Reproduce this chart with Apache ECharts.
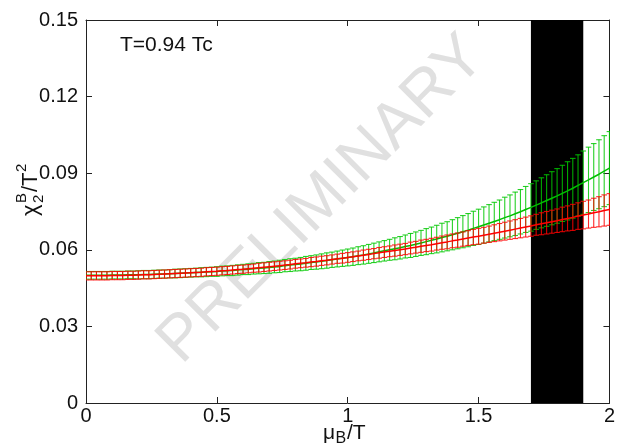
<!DOCTYPE html>
<html><head><meta charset="utf-8">
<script src="https://cdn.jsdelivr.net/npm/echarts@6/dist/echarts.min.js"></script>
<style>html,body{margin:0;padding:0;background:#fff}#c{width:618px;height:446px}</style>
</head><body><div id="c"></div>
<script>
const muB = [0,0.02,0.04,0.06,0.08,0.10,0.12,0.14,0.16,0.18,0.20,0.22,0.24,0.26,0.28,0.30,0.32,0.34,0.36,0.38,0.40,0.42,0.44,0.46,0.48,0.50,0.52,0.54,0.56,0.58,0.60,0.62,0.64,0.66,0.68,0.70,0.72,0.74,0.76,0.78,0.80,0.82,0.84,0.86,0.88,0.90,0.92,0.94,0.96,0.98,1.00,1.02,1.04,1.06,1.08,1.10,1.12,1.14,1.16,1.18,1.20,1.22,1.24,1.26,1.28,1.30,1.32,1.34,1.36,1.38,1.40,1.42,1.44,1.46,1.48,1.50,1.52,1.54,1.56,1.58,1.60,1.62,1.64,1.66,1.68,1.70,1.72,1.74,1.76,1.78,1.80,1.82,1.84,1.86,1.88,1.90,1.92,1.94,1.96,1.98,2.00];
const greenVal = [0.0500,0.0500,0.0500,0.0500,0.0500,0.0501,0.0501,0.0501,0.0502,0.0502,0.0502,0.0503,0.0503,0.0504,0.0505,0.0505,0.0506,0.0507,0.0508,0.0509,0.0510,0.0511,0.0512,0.0513,0.0514,0.0515,0.0517,0.0518,0.0519,0.0521,0.0523,0.0524,0.0526,0.0528,0.0529,0.0531,0.0533,0.0535,0.0538,0.0540,0.0542,0.0544,0.0547,0.0550,0.0552,0.0555,0.0558,0.0561,0.0564,0.0567,0.0570,0.0573,0.0577,0.0580,0.0584,0.0588,0.0592,0.0596,0.0600,0.0604,0.0608,0.0613,0.0617,0.0622,0.0627,0.0632,0.0637,0.0642,0.0648,0.0653,0.0659,0.0665,0.0671,0.0677,0.0684,0.0690,0.0697,0.0704,0.0711,0.0718,0.0726,0.0733,0.0741,0.0749,0.0758,0.0766,0.0775,0.0784,0.0793,0.0802,0.0811,0.0821,0.0831,0.0841,0.0852,0.0863,0.0874,0.0885,0.0896,0.0908,0.0920];
const greenErr = [0.0015,0.0015,0.0015,0.0015,0.0015,0.0015,0.0015,0.0015,0.0015,0.0015,0.0016,0.0016,0.0016,0.0016,0.0016,0.0016,0.0016,0.0017,0.0017,0.0017,0.0017,0.0017,0.0018,0.0018,0.0018,0.0019,0.0019,0.0019,0.0020,0.0020,0.0020,0.0021,0.0021,0.0022,0.0022,0.0023,0.0023,0.0024,0.0024,0.0025,0.0025,0.0026,0.0027,0.0027,0.0028,0.0029,0.0030,0.0030,0.0031,0.0032,0.0033,0.0034,0.0035,0.0036,0.0037,0.0038,0.0039,0.0040,0.0041,0.0043,0.0044,0.0045,0.0047,0.0048,0.0049,0.0051,0.0052,0.0054,0.0056,0.0057,0.0059,0.0061,0.0063,0.0065,0.0067,0.0069,0.0071,0.0073,0.0075,0.0077,0.0080,0.0082,0.0085,0.0087,0.0090,0.0093,0.0095,0.0098,0.0101,0.0104,0.0107,0.0110,0.0114,0.0117,0.0120,0.0124,0.0128,0.0131,0.0135,0.0139,0.0143];
const redVal = [0.0498,0.0498,0.0498,0.0498,0.0498,0.0499,0.0499,0.0499,0.0500,0.0500,0.0501,0.0502,0.0502,0.0503,0.0504,0.0505,0.0506,0.0507,0.0508,0.0509,0.0510,0.0511,0.0512,0.0514,0.0515,0.0516,0.0518,0.0519,0.0521,0.0523,0.0524,0.0526,0.0528,0.0530,0.0532,0.0534,0.0536,0.0538,0.0540,0.0542,0.0545,0.0547,0.0549,0.0552,0.0554,0.0557,0.0559,0.0562,0.0565,0.0567,0.0570,0.0573,0.0576,0.0579,0.0582,0.0585,0.0588,0.0591,0.0594,0.0597,0.0600,0.0603,0.0607,0.0610,0.0614,0.0617,0.0620,0.0624,0.0628,0.0631,0.0635,0.0638,0.0642,0.0646,0.0650,0.0653,0.0657,0.0661,0.0665,0.0669,0.0673,0.0677,0.0681,0.0685,0.0689,0.0693,0.0698,0.0702,0.0706,0.0710,0.0714,0.0719,0.0723,0.0727,0.0732,0.0736,0.0740,0.0745,0.0749,0.0754,0.0758];
const redErr = [0.0016,0.0016,0.0016,0.0016,0.0016,0.0016,0.0016,0.0016,0.0016,0.0016,0.0016,0.0016,0.0016,0.0016,0.0016,0.0016,0.0016,0.0016,0.0016,0.0016,0.0016,0.0016,0.0016,0.0016,0.0016,0.0016,0.0016,0.0016,0.0016,0.0016,0.0016,0.0016,0.0016,0.0017,0.0017,0.0017,0.0017,0.0017,0.0017,0.0017,0.0017,0.0017,0.0017,0.0018,0.0018,0.0018,0.0018,0.0018,0.0018,0.0019,0.0019,0.0019,0.0019,0.0020,0.0020,0.0020,0.0021,0.0021,0.0021,0.0022,0.0022,0.0022,0.0023,0.0023,0.0024,0.0024,0.0025,0.0025,0.0026,0.0027,0.0027,0.0028,0.0028,0.0029,0.0030,0.0031,0.0031,0.0032,0.0033,0.0034,0.0035,0.0036,0.0037,0.0038,0.0039,0.0040,0.0041,0.0043,0.0044,0.0045,0.0046,0.0048,0.0049,0.0051,0.0052,0.0054,0.0055,0.0057,0.0059,0.0061,0.0062];
const band = [1.7, 1.9];
const xTicks = [0, 0.5, 1, 1.5, 2];
const yTicks = [0, 0.03, 0.06, 0.09, 0.12, 0.15];

const FONT = "'Liberation Sans', Arial, Helvetica, sans-serif";
const chart = echarts.init(document.getElementById('c'), null, {renderer: 'canvas'});

function errData(v, e) { return muB.map((x, i) => [x, v[i] - e[i], v[i] + e[i]]); }
function lineData(v) { return muB.map((x, i) => [x, v[i]]); }
function errRender(color) {
  return function (params, api) {
    const x = api.value(0);
    const p1 = api.coord([x, api.value(1)]);
    const p2 = api.coord([x, api.value(2)]);
    const h = 2.8;
    const st = {stroke: color, lineWidth: 1.1};
    return {type: 'group', children: [
      {type: 'line', shape: {x1: p1[0], y1: p1[1], x2: p2[0], y2: p2[1]}, style: st},
      {type: 'line', shape: {x1: p1[0] - h, y1: p1[1], x2: p1[0] + h, y2: p1[1]}, style: st},
      {type: 'line', shape: {x1: p2[0] - h, y1: p2[1], x2: p2[0] + h, y2: p2[1]}, style: st}
    ]};
  };
}

const axisCommon = {
  axisLine: {show: true, onZero: false, lineStyle: {color: '#222', width: 1}},
  axisTick: {show: true, inside: true, length: 6, lineStyle: {color: '#222'}},
  splitLine: {show: false}
};

const option = {
  animation: false,
  backgroundColor: '#fff',
  grid: {left: 86, right: 6, top: 20, bottom: 43},
  xAxis: [
    Object.assign({type: 'value', min: 0, max: 2, interval: 0.5, position: 'bottom',
      axisLabel: {color: '#111', fontSize: 20, fontFamily: FONT, margin: 3,
        formatter: v => String(xTicks.find(t => Math.abs(t - v) < 1e-9) ?? v)}}, axisCommon),
    Object.assign({type: 'value', min: 0, max: 2, interval: 0.5, position: 'top',
      axisLabel: {show: false}}, axisCommon)
  ],
  yAxis: [
    Object.assign({type: 'value', min: 0, max: 0.15, interval: 0.03, position: 'left',
      axisLabel: {color: '#111', fontSize: 20, fontFamily: FONT, margin: 8,
        formatter: v => String(yTicks.find(t => Math.abs(t - v) < 1e-9) ?? v)}}, axisCommon),
    Object.assign({type: 'value', min: 0, max: 0.15, interval: 0.03, position: 'right',
      axisLabel: {show: false}}, axisCommon)
  ],
  graphic: [
    {type: 'text', x: 322, y: 200, rotation: Math.PI / 4, z: -10, silent: true,
      style: {text: 'PRELIMINARY', fill: '#e0e0e0', font: '64px ' + FONT, textAlign: 'center', textVerticalAlign: 'middle'}},
    {type: 'text', left: 120, top: 35, z: 10,
      style: {text: 'T=0.94 Tc', fill: '#111', font: '21px ' + FONT}},
    {type: 'group', x: 323, y: 433, z: 10, children: [
      {type: 'text', x: 0, y: 0, style: {text: 'μ', fill: '#111', font: '21px ' + FONT, textVerticalAlign: 'middle'}},
      {type: 'text', x: 12.5, y: 6, style: {text: 'B', fill: '#111', font: '16px ' + FONT, textVerticalAlign: 'middle'}},
      {type: 'text', x: 24, y: 0, style: {text: '/T', fill: '#111', font: '21px ' + FONT, textVerticalAlign: 'middle'}}
    ]},
    {type: 'group', x: 31, y: 216, rotation: Math.PI / 2, z: 10, children: [
      {type: 'text', x: 0, y: 0, style: {text: 'χ', fill: '#111', font: '22px ' + FONT, textVerticalAlign: 'middle'}},
      {type: 'text', x: 13, y: -9, style: {text: 'B', fill: '#111', font: '15px ' + FONT, textVerticalAlign: 'middle'}},
      {type: 'text', x: 13, y: 8, style: {text: '2', fill: '#111', font: '15px ' + FONT, textVerticalAlign: 'middle'}},
      {type: 'text', x: 24, y: 0, style: {text: '/T', fill: '#111', font: '22px ' + FONT, textVerticalAlign: 'middle'}},
      {type: 'text', x: 44, y: -9, style: {text: '2', fill: '#111', font: '15px ' + FONT, textVerticalAlign: 'middle'}}
    ]}
  ],
  series: [
    {type: 'line', data: [], z: 1, silent: true,
      markArea: {silent: true, itemStyle: {color: '#000', opacity: 1},
        data: [[{xAxis: band[0], yAxis: 0}, {xAxis: band[1], yAxis: 0.15}]]}},
    {type: 'custom', name: 'green err', renderItem: errRender('rgba(0,200,0,0.85)'),
      data: errData(greenVal, greenErr), encode: {x: 0, y: [1, 2]}, z: 3, clip: true},
    {type: 'line', name: 'green', data: lineData(greenVal), showSymbol: false, z: 4,
      lineStyle: {color: '#00c000', width: 1.5}},
    {type: 'custom', name: 'red err', renderItem: errRender('rgba(255,0,0,0.85)'),
      data: errData(redVal, redErr), encode: {x: 0, y: [1, 2]}, z: 5, clip: true},
    {type: 'line', name: 'red', data: lineData(redVal), showSymbol: false, z: 6,
      lineStyle: {color: '#ff0000', width: 1.5}}
  ]
};
chart.setOption(option);
</script>
</body></html>
